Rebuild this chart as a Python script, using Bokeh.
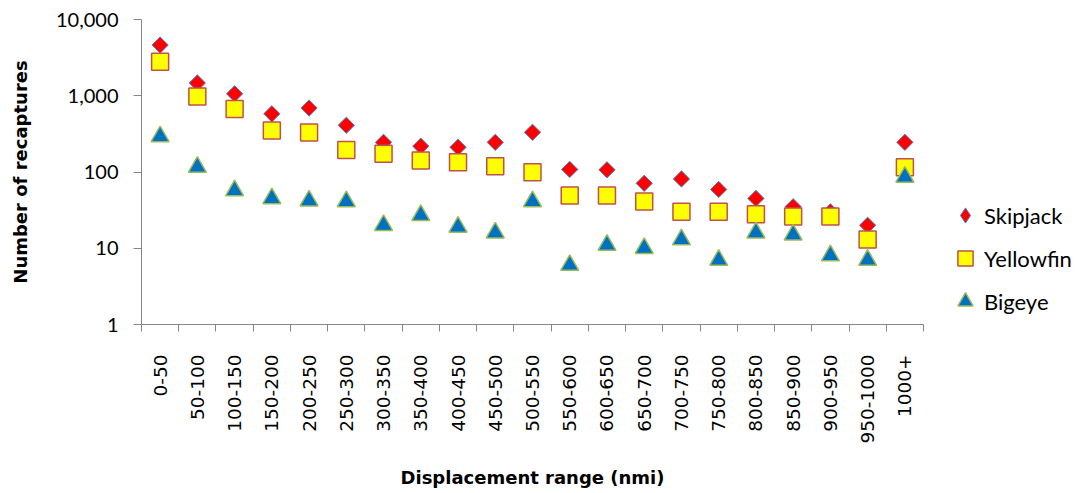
import numpy as np
from bokeh.plotting import figure
from bokeh.models import (Range1d, FixedTicker, NumeralTickFormatter, CustomJSTickFormatter,
                          Legend, LegendItem)
from bokeh.embed import file_html
from bokeh.resources import INLINE

categories = ["0-50", "50-100", "100-150", "150-200", "200-250", "250-300", "300-350",
              "350-400", "400-450", "450-500", "500-550", "550-600", "600-650", "650-700",
              "700-750", "750-800", "800-850", "850-900", "900-950", "950-1000", "1000+"]
skipjack = [4620, 1470, 1060, 580, 690, 410, 245, 218, 211, 245, 332, 108, 107, 71,
            81, 59, 45, 35, 30, 20, 245]
yellowfin = [2800, 975, 670, 350, 330, 195, 173, 141, 134, 119, 99, 49, 49, 41,
             30, 30, 28, 26, 26, 13, 115]
bigeye = [292, 116, 57, 45, 42, 41, 20, 27, 19, 16, 41, 6, 11, 10,
          13, 7, 16, 15, 8, 7, 86]
y_ticks = [1, 10, 100, 1000, 10000]

n = len(categories)
xs = np.arange(n) + 0.5

p = figure(frame_width=782, frame_height=305, x_range=Range1d(0, n), y_range=Range1d(1, 10000),
           y_axis_type="log", output_backend="svg", toolbar_location=None,
           min_border_left=141, min_border_right=151, min_border_top=19, min_border_bottom=4,
           background_fill_color="white", border_fill_color="white")
p.outline_line_color = None
p.grid.visible = False

r1 = p.scatter(xs, skipjack, marker="square", angle=np.pi / 4, size=11.5,
               fill_color="#FF0000", line_color="#4F81BD", line_width=1)
r2 = p.scatter(xs, yellowfin, marker="square", size=17,
               fill_color="#FFFF00", line_color="#C0504D", line_width=1.5)
r3 = p.scatter(xs, bigeye, marker="triangle", size=18,
               fill_color="#0070C0", line_color="#9BBB59", line_width=1.5)
# hidden twin of the Skipjack series, used only for its legend symbol
# (legend markers are drawn unrotated, so a diamond marker is used there)
r1_leg = p.scatter(xs, skipjack, marker="diamond", visible=False,
                   fill_color="#FF0000", line_color="#4F81BD", line_width=1)

# y axis
ya = p.yaxis[0]
ya.ticker = FixedTicker(ticks=y_ticks)
ya.formatter = NumeralTickFormatter(format="0,0")
ya.axis_line_color = "#868686"
ya.major_tick_line_color = "#868686"
ya.major_tick_out = 8
ya.major_tick_in = 0
ya.minor_tick_line_color = None
ya.major_label_standoff = 15
ya.major_label_text_font = "Lato"
ya.major_label_text_font_size = "20px"
ya.major_label_text_color = "black"
ya.axis_label = "Number of recaptures"
ya.axis_label_text_font = "DejaVu Sans"
ya.axis_label_text_font_style = "bold"
ya.axis_label_text_font_size = "18px"
ya.axis_label_text_color = "black"
ya.axis_label_standoff = 22

# x axis
xa = p.xaxis[0]
xa.ticker = FixedTicker(ticks=list(xs), minor_ticks=list(range(n + 1)))
xa.formatter = CustomJSTickFormatter(args=dict(labels=categories),
                                     code="return labels[Math.floor(tick)];")
xa.axis_line_color = "#868686"
xa.major_tick_line_color = None
xa.major_tick_out = 7
xa.major_tick_in = 0
xa.minor_tick_line_color = "#868686"
xa.minor_tick_out = 7
xa.minor_tick_in = 0
xa.major_label_orientation = np.pi / 2
xa.major_label_standoff = 23
xa.major_label_text_font = "DejaVu Sans"
xa.major_label_text_font_size = "18.5px"
xa.major_label_text_color = "black"
xa.axis_label = "Displacement range (nmi)"
xa.axis_label_text_font = "DejaVu Sans"
xa.axis_label_text_font_style = "bold"
xa.axis_label_text_font_size = "18px"
xa.axis_label_text_color = "black"
xa.axis_label_standoff = 20

legend = Legend(items=[LegendItem(label="Skipjack", renderers=[r1_leg]),
                       LegendItem(label="Yellowfin", renderers=[r2]),
                       LegendItem(label="Bigeye", renderers=[r3])],
                location=(23, 4), glyph_width=38, glyph_height=38, label_height=38,
                spacing=5, label_standoff=0, padding=0, margin=0,
                border_line_color=None, background_fill_alpha=0,
                inactive_fill_alpha=0,
                label_text_font="Lato", label_text_font_size="22px", label_text_color="black")
p.add_layout(legend, "right")

open("out.html", "w").write(file_html(p, INLINE))
